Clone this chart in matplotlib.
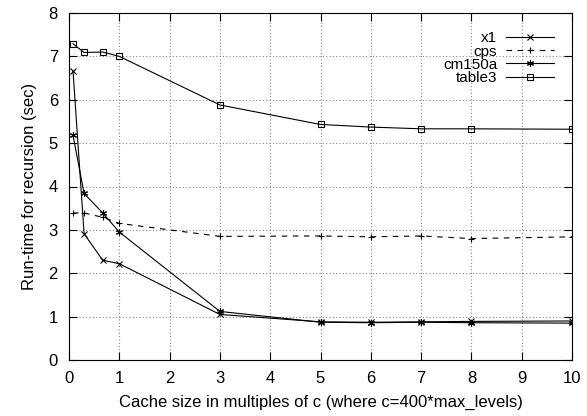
import matplotlib
matplotlib.use('Agg')
import matplotlib.pyplot as plt

plt.rcParams['font.family'] = ['Liberation Sans', 'DejaVu Sans']

cache = [0.08, 0.3, 0.67, 1, 3, 5, 6, 7, 8, 10]
x1 = [6.66, 2.91, 2.30, 2.22, 1.05, 0.88, 0.87, 0.88, 0.89, 0.90]
cps = [3.39, 3.39, 3.29, 3.15, 2.85, 2.86, 2.84, 2.86, 2.80, 2.84]
cm150a = [5.18, 3.84, 3.39, 2.95, 1.12, 0.87, 0.86, 0.87, 0.86, 0.85]
table3 = [7.29, 7.09, 7.10, 7.0, 5.88, 5.43, 5.37, 5.33, 5.33, 5.32]

fig = plt.figure(figsize=(5.87, 4.16), dpi=100)
ax = fig.add_axes([69 / 587, 1 - 360 / 416, 503 / 587, 347 / 416])

ax.plot(cache, x1, color='black', lw=0.8, marker='x', ms=4, mew=0.8, label='x1')
ax.plot(cache, cps, color='black', lw=0.8, ls=(0, (5, 5)), marker='+', ms=5, mew=0.8, label='cps')
ax.plot(cache, cm150a, color='black', lw=0.8, marker=(6, 2, 0), ms=5, mew=0.8, label='cm150a')
ax.plot(cache, table3, color='black', lw=0.8, marker='s', ms=4, mew=0.8, mfc='none', label='table3')

ax.set_xlim(0, 10)
ax.set_ylim(0, 8)
ax.set_xticks(range(0, 11))
ax.set_yticks(range(0, 9))
ax.grid(True, color='#888888', ls=(0, (1, 2)), lw=0.8)
ax.tick_params(direction='in', top=True, right=True, length=6, labelsize=12, pad=8)
ax.set_xlabel('Cache size in multiples of c (where c=400*max_levels)', fontsize=12, labelpad=6)
ax.set_ylabel('Run-time for recursion (sec)', fontsize=12, labelpad=8)

leg = ax.legend(loc='upper right', markerfirst=False, frameon=False, fontsize=11,
                handlelength=3.1, labelspacing=-0.05, borderaxespad=0.8, borderpad=0.4,
                handletextpad=0.6)
for t in leg.get_texts():
    t.set_ha('right')

fig.savefig('out.png', dpi=100)
